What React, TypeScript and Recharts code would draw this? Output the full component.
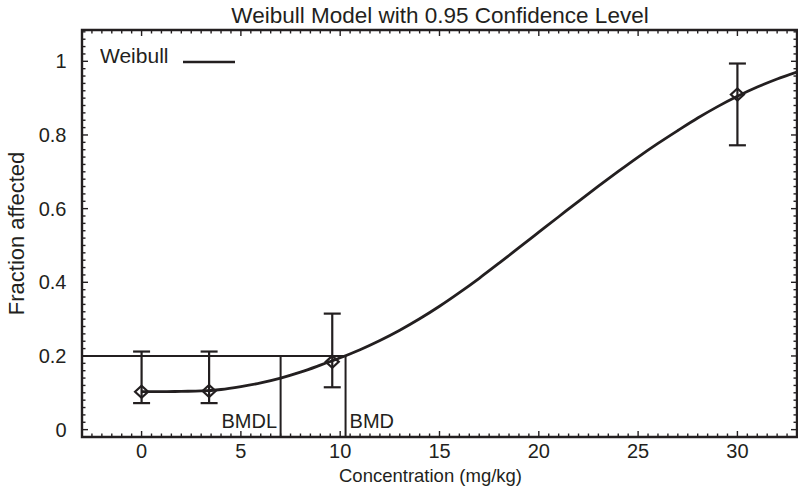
import {
  ComposedChart,
  Line,
  Scatter,
  ErrorBar,
  XAxis,
  YAxis,
  ReferenceLine,
  ReferenceArea,
  Legend,
  Label,
} from "recharts";

const INK = "#231f20";
const FONT = '"Liberation Sans", Arial, Helvetica, sans-serif';

// observed dose groups: fraction affected with 0.95 limits
const DOSES = [0, 3.4, 9.6, 30];
const FRACTIONS = [0.103, 0.105, 0.184, 0.91];
const LOWER = [0.072, 0.072, 0.115, 0.772];
const UPPER = [0.212, 0.212, 0.315, 0.994];

// fitted Weibull curve
const CURVE_X = [
  0, 1, 2, 3, 4, 5, 6, 7, 8, 9, 10, 11, 12, 13, 14, 15, 16,
  17, 18, 19, 20, 21, 22, 23, 24, 25, 26, 27, 28, 29, 30, 31, 32, 33,
];
const CURVE_Y = [
  0.103, 0.103, 0.104, 0.105, 0.109, 0.117, 0.127, 0.14, 0.156, 0.175, 0.195,
  0.217, 0.242, 0.27, 0.301, 0.335, 0.372, 0.411, 0.452, 0.494, 0.536, 0.578,
  0.62, 0.661, 0.701, 0.74, 0.777, 0.812, 0.846, 0.877, 0.905, 0.93, 0.952,
  0.971,
];

const BMR = 0.2;
const BMDL = 7.0;
const BMD = 10.27;

const X_DOMAIN: [number, number] = [-3, 33];
const Y_DOMAIN: [number, number] = [-0.02, 1.085];
const X_LABELS = [0, 5, 10, 15, 20, 25, 30];
const Y_LABELS = [0, 0.2, 0.4, 0.6, 0.8, 1];

// layout
const W = 798;
const H = 487;
const TOP = 30;
const BOTTOM = 437;
const LEFT = 82;
const RIGHT = 797;

const curve = CURVE_X.map((x, i) => ({ x, y: CURVE_Y[i] }));
const points = DOSES.map((x, i) => ({
  x,
  y: FRACTIONS[i],
  err: [FRACTIONS[i] - LOWER[i], UPPER[i] - FRACTIONS[i]],
}));

// minor ticks: every 0.5 on x, every 0.02 on y
const xTicks: number[] = [];
for (let i = 1; i < 72; i++) xTicks.push(Math.round((X_DOMAIN[0] + i * 0.5) * 10) / 10);
const yTicks: number[] = [];
for (let i = 0; i <= 54; i++) yTicks.push(Math.round(i * 2) / 100);

const isIn = (list: number[], v: number) => list.some((m) => Math.abs(m - v) < 1e-6);

const XTick = (props: any) => {
  const { x, payload } = props;
  const major = isIn(X_LABELS, payload.value);
  const len = major ? 6 : 3.5;
  return (
    <g>
      <line x1={x} x2={x} y1={BOTTOM} y2={BOTTOM - len} stroke={INK} strokeWidth={1.4} />
      <line x1={x} x2={x} y1={TOP} y2={TOP + len} stroke={INK} strokeWidth={1.4} />
      {major && (
        <text x={x} y={BOTTOM + 21.3} textAnchor="middle" fontSize={20} fontFamily={FONT} fill={INK}>
          {payload.value}
        </text>
      )}
    </g>
  );
};

const YTick = (props: any) => {
  const { y, payload } = props;
  const major = isIn(Y_LABELS, payload.value);
  const len = major ? 6 : 3.5;
  return (
    <g>
      <line x1={LEFT} x2={LEFT + len} y1={y} y2={y} stroke={INK} strokeWidth={1.4} />
      <line x1={RIGHT} x2={RIGHT - len} y1={y} y2={y} stroke={INK} strokeWidth={1.4} />
      {major && (
        <text x={66.5} y={y} dy="0.35em" textAnchor="end" fontSize={20} fontFamily={FONT} fill={INK}>
          {String(payload.value)}
        </text>
      )}
    </g>
  );
};

const Diamond = (props: any) => {
  const { cx, cy } = props;
  return (
    <path
      d={`M${cx},${cy - 6}L${cx + 6.5},${cy}L${cx},${cy + 6}L${cx - 6.5},${cy}Z`}
      fill="none"
      stroke={INK}
      strokeWidth={2.2}
    />
  );
};

const bmdlLabel = (p: any) => {
  const { x, y, height } = p.viewBox;
  return (
    <text x={x - 3.5} y={y + height - 8.7} textAnchor="end" fontSize={20} fontFamily={FONT} fill={INK}>
      BMDL
    </text>
  );
};

const bmdLabel = (p: any) => {
  const { x, y, height } = p.viewBox;
  return (
    <text x={x + 4} y={y + height - 8.7} textAnchor="start" fontSize={20} fontFamily={FONT} fill={INK}>
      BMD
    </text>
  );
};

const WeibullLegend = () => (
  <svg width={150} height={30}>
    <text x={0} y={22.5} fontSize={21} fontFamily={FONT} fill={INK}>
      Weibull
    </text>
    <line x1={83} x2={135} y1={22} y2={22} stroke={INK} strokeWidth={2.5} />
  </svg>
);

export default function App() {
  return (
    <div style={{ position: "absolute", left: 0, top: 0, width: W, height: H, background: "#fff" }}>
      <ComposedChart width={W} height={H} margin={{ top: TOP, right: W - RIGHT, bottom: 0, left: 0 }}>
        <XAxis
          dataKey="x"
          type="number"
          domain={X_DOMAIN}
          allowDataOverflow
          ticks={xTicks}
          interval={0}
          tick={XTick}
          tickLine={false}
          axisLine={false}
          height={H - BOTTOM}
        >
          <Label
            content={(p: any) => (
              <text
                x={p.viewBox.x + p.viewBox.width / 2 - 9}
                y={482}
                textAnchor="middle"
                fontSize={18.5}
                fontFamily={FONT}
                fill={INK}
              >
                Concentration (mg/kg)
              </text>
            )}
          />
        </XAxis>
        <YAxis
          type="number"
          domain={Y_DOMAIN}
          allowDataOverflow
          ticks={yTicks}
          interval={0}
          tick={YTick}
          tickLine={false}
          axisLine={false}
          width={LEFT}
        >
          <Label
            content={(p: any) => {
              const cy = p.viewBox.y + p.viewBox.height / 2;
              return (
                <text
                  x={24}
                  y={cy}
                  transform={`rotate(-90 24 ${cy})`}
                  textAnchor="middle"
                  fontSize={22}
                  fontFamily={FONT}
                  fill={INK}
                >
                  Fraction affected
                </text>
              );
            }}
          />
        </YAxis>
        <ReferenceArea
          x1={X_DOMAIN[0]}
          x2={X_DOMAIN[1]}
          y1={Y_DOMAIN[0]}
          y2={Y_DOMAIN[1]}
          fill="none"
          fillOpacity={0}
          stroke={INK}
          strokeWidth={2.4}
        />
        <ReferenceLine
          segment={[
            { x: X_DOMAIN[0], y: BMR },
            { x: BMD, y: BMR },
          ]}
          stroke={INK}
          strokeWidth={2}
        />
        <ReferenceLine
          segment={[
            { x: BMDL, y: Y_DOMAIN[0] },
            { x: BMDL, y: BMR },
          ]}
          stroke={INK}
          strokeWidth={2}
          label={bmdlLabel}
        />
        <ReferenceLine
          segment={[
            { x: BMD, y: Y_DOMAIN[0] },
            { x: BMD, y: BMR },
          ]}
          stroke={INK}
          strokeWidth={2}
          label={bmdLabel}
        />
        <Line
          data={curve}
          dataKey="y"
          type="monotone"
          stroke={INK}
          strokeWidth={2.8}
          dot={false}
          activeDot={false}
          isAnimationActive={false}
          name="Weibull"
        />
        <Scatter data={points} dataKey="y" shape={Diamond} isAnimationActive={false}>
          <ErrorBar dataKey="err" direction="y" width={8.5} stroke={INK} strokeWidth={2.2} />
        </Scatter>
        <Legend
          layout="horizontal"
          verticalAlign="middle"
          align="center"
          wrapperStyle={{ left: 100, top: 40, width: 150, height: 30 }}
          content={WeibullLegend}
        />
      </ComposedChart>
      <svg
        width={W}
        height={TOP}
        style={{ position: "absolute", left: 0, top: 0, pointerEvents: "none" }}
      >
        <text x={440} y={23.3} textAnchor="middle" fontSize={22.5} fontFamily={FONT} fill={INK}>
          Weibull Model with 0.95 Confidence Level
        </text>
      </svg>
    </div>
  );
}
